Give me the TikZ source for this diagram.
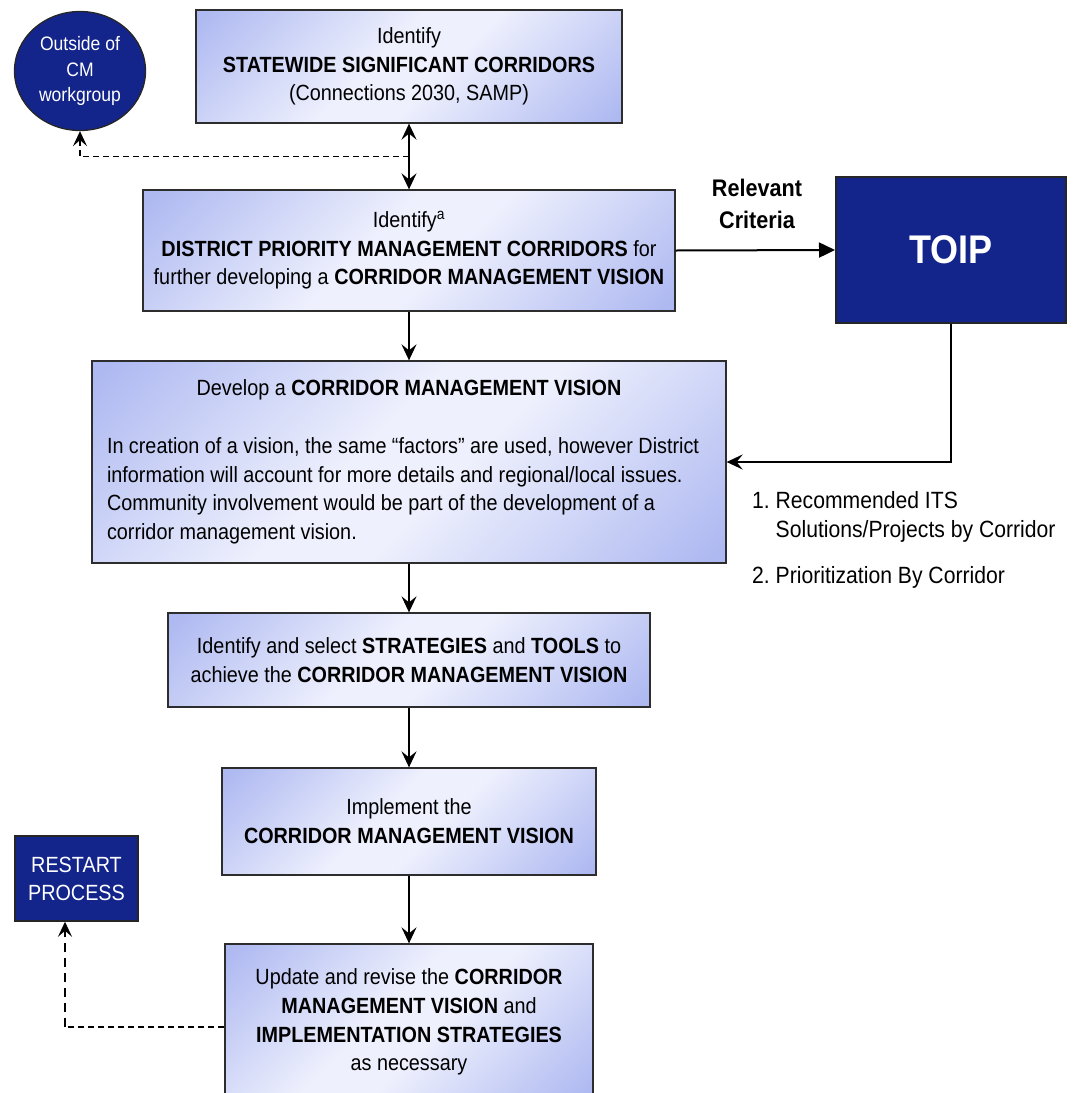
\documentclass[tikz,border=0pt]{standalone}
\usepackage{fontspec}
\setmainfont{Liberation Sans}[FakeStretch=0.9]
\usetikzlibrary{arrows.meta,shapes.geometric}
\definecolor{navy}{RGB}{19,36,138}
\definecolor{bdark}{RGB}{174,185,241}
\definecolor{blight}{RGB}{238,240,253}
\definecolor{edgec}{RGB}{45,45,45}
\pgfdeclareverticalshading{boxshade}{100bp}{color(0bp)=(bdark); color(16bp)=(bdark); color(45bp)=(blight); color(55bp)=(blight); color(84bp)=(bdark); color(100bp)=(bdark)}
\tikzset{
  box/.style={draw=edgec, line width=1.3pt, shading=boxshade, shading angle=45,
    inner sep=0pt, align=center,
    font={\fontsize{22pt}{28.8pt}\selectfont}},
  navybox/.style={draw=black!85, line width=1.5pt, fill=navy, text=white,
    inner sep=0pt, align=center},
  arr/.style={line width=2pt, -{Stealth[length=16pt,width=15pt,inset=6pt]}},
  dblarr/.style={line width=2pt, {Stealth[length=16pt,width=15pt,inset=6pt]}-{Stealth[length=16pt,width=15pt,inset=6pt]}},
  triarr/.style={line width=2pt, -{Triangle[length=16pt,width=15pt]}},
  dashthin/.style={line width=1.5pt, dash pattern=on 6pt off 4pt},
  dashthick/.style={line width=2.5pt, dash pattern=on 9pt off 6pt},
  dtip/.style={-{Stealth[length=15pt,width=14pt,inset=6pt]}},
  plain/.style={inner sep=0pt, align=center}
}
\begin{document}
\begin{tikzpicture}[x=1pt,y=-1pt]
\useasboundingbox (0,0) rectangle (1074,1093);
\clip (0,0) rectangle (1074,1093);

% main column boxes
\node[box, minimum width=426pt, minimum height=113pt] (b1) at (409,66.5)
  {Identify\\\textbf{STATEWIDE SIGNIFICANT CORRIDORS}\\(Connections 2030, SAMP)};
\node[box, minimum width=532pt, minimum height=121pt] (b2) at (409,250.5)
  {Identify\textsuperscript{a}\\\textbf{DISTRICT PRIORITY MANAGEMENT CORRIDORS} for\\further developing a \textbf{CORRIDOR MANAGEMENT VISION}};
\node[box, minimum width=634pt, minimum height=202pt, text width=604pt, inner xsep=15pt, align=none] (b3) at (409,462)
  {\centering Develop a \textbf{CORRIDOR MANAGEMENT VISION}\par\vspace{28.8pt}%
   \raggedright In creation of a vision, the same “factors” are used, however District\\
   information will account for more details and regional/local issues.\\
   Community involvement would be part of the development of a\\
   corridor management vision.\par};
\node[box, minimum width=482pt, minimum height=94pt] (b4) at (409,660)
  {Identify and select \textbf{STRATEGIES} and \textbf{TOOLS} to\\achieve the \textbf{CORRIDOR MANAGEMENT VISION}};
\node[box, minimum width=374pt, minimum height=107pt] (b5) at (409,821.5)
  {Implement the\\\textbf{CORRIDOR MANAGEMENT VISION}};
\node[box, minimum width=368pt, minimum height=156pt] (b6) at (409,1022)
  {Update and revise the \textbf{CORRIDOR}\\\textbf{MANAGEMENT VISION} and\\\textbf{IMPLEMENTATION STRATEGIES}\\as necessary};

% side nodes
\node[ellipse, navybox, line width=1.3pt, minimum width=131pt, minimum height=119pt,
  font={\fontsize{19.5pt}{25.5pt}\selectfont}] (out) at (80,71)
  {Outside of\\CM\\workgroup};
\node[navybox, line width=2pt, minimum width=230pt, minimum height=146pt,
  font={\fontsize{40pt}{44pt}\selectfont\bfseries}] (toip) at (951,250) {TOIP};
\node[navybox, minimum width=123pt, minimum height=85pt,
  font={\fontsize{22pt}{28pt}\selectfont}] (rs) at (76.5,878.5) {RESTART\\PROCESS};

\node[plain, font={\fontsize{24pt}{32pt}\selectfont\bfseries}] (rc) at (757,204)
  {Relevant\\Criteria};
\node[plain, align=left, anchor=west, font={\fontsize{23.5pt}{29pt}\selectfont}] (list) at (752,540)
  {1.\ Recommended ITS\\\phantom{1.\ }Solutions/Projects by Corridor\\[17pt]2.\ Prioritization By Corridor};

% connectors
\draw[dblarr] (b1.south) -- coordinate[midway] (m) (b2.north);
\draw[dashthin, dtip] (m) -| (out.south);
\draw[arr] (b2.south) -- (b3.north);
\draw[arr] (b3.south) -- (b4.north);
\draw[arr] (b4.south) -- (b5.north);
\draw[arr] (b5.south) -- (b6.north);
\draw[triarr] (b2.east) -- (toip.west);
\draw[arr] (toip.south) |- (b3.east);

\coordinate (rcorner) at (65,1027);
\draw[dashthin] ([yshift=-5pt]b6.west) -- (rcorner);
\draw[dashthick, dtip] (rcorner) -- ([xshift=-11.5pt]rs.south);
\end{tikzpicture}
\end{document}
